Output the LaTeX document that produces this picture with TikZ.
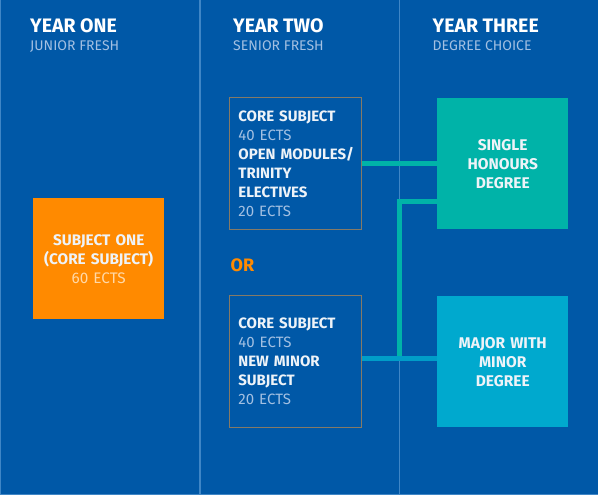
\documentclass[tikz,border=0pt]{standalone}
\usepackage{fontspec}
\setmainfont{Fira Sans}
\usetikzlibrary{positioning}

\definecolor{bgblue}{HTML}{0058A7}
\definecolor{divline}{HTML}{3F86C6}
\definecolor{boxline}{HTML}{857A66}
\definecolor{subtext}{HTML}{A3C0E2}
\definecolor{paletext}{HTML}{EEF3F8}
\definecolor{orangebox}{HTML}{FF8A00}
\definecolor{tealbox}{HTML}{00B3A8}
\definecolor{cyanbox}{HTML}{00A9CE}

\begin{document}
\begin{tikzpicture}[x=1pt,y=-1pt,
  heading/.style={anchor=base west, inner sep=0pt, text=white, font=\fontsize{19.5}{21}\selectfont\bfseries},
  subhead/.style={anchor=base west, inner sep=0pt, text=subtext, font=\fontsize{14}{16}\selectfont},
  yearbox/.style={draw=boxline, line width=0.8pt, anchor=north west, minimum width=132pt, minimum height=132pt,
    text width=114pt, inner xsep=9pt, align=left, text=paletext, font=\fontsize{15}{19}\selectfont},
  degreebox/.style={anchor=north west, minimum width=131pt, minimum height=131pt, text width=124pt,
    align=center, text=paletext, font=\fontsize{15.5}{19}\selectfont\bfseries},
  link/.style={line width=4.5pt}
]

% background and columns
\useasboundingbox (0,0) rectangle (598,495);
\fill[bgblue] (0,0) rectangle (598,495);
\draw[divline, line width=1.2pt] (0.6,0) -- (0.6,494.4) -- (598,494.4);
\draw[divline, line width=1.2pt] (200,0) -- (200,495);
\draw[divline, line width=1.2pt] (399.5,0) -- (399.5,495);

% headings
\node[heading] (h1) at (30,32.7) {YEAR ONE};
\node[subhead] (s1) at (30,51) {JUNIOR FRESH};
\node[heading] (h2) at (233,32.7) {YEAR TWO};
\node[subhead] (s2) at (233,51) {SENIOR FRESH};
\node[heading] (h3) at (432.5,32.7) {YEAR THREE};
\node[subhead] (s3) at (432.5,51) {DEGREE CHOICE};

% year one
\node[fill=orangebox, anchor=north west, minimum width=131pt, minimum height=121pt, text width=124pt,
  align=center, text=paletext, font=\fontsize{15.3}{19}\selectfont] (one) at (33,198)
  {\textbf{SUBJECT ONE}\\ \textbf{(CORE SUBJECT)}\\ {\color[HTML]{FFD9A8}60 ECTS}};

% year two
\node[yearbox] (open) at (229,97)
  {\textbf{CORE SUBJECT}\\ {\color{subtext}40 ECTS}\\ \mbox{\textbf{OPEN MODULES/}}\\ \textbf{TRINITY}\\ \textbf{ELECTIVES}\\ {\color{subtext}20 ECTS}};
\node[text=orangebox, anchor=base west, inner sep=0pt, font=\fontsize{18}{20}\selectfont\bfseries] (or) at (230.5,271) {OR};
\node[yearbox] (minor) at (229,295)
  {\textbf{CORE SUBJECT}\\ {\color{subtext}40 ECTS}\\ \textbf{NEW MINOR}\\ \textbf{SUBJECT}\\ {\color{subtext}20 ECTS}};

% year three
\node[degreebox, fill=tealbox] (single) at (437,98) {SINGLE\\ HONOURS\\ DEGREE};
\node[degreebox, fill=cyanbox] (major) at (437,296) {MAJOR WITH\\ MINOR\\ DEGREE};

% connectors
\draw[link, tealbox] (open.east) -- (open.east -| single.west);
\coordinate (split) at (399.5,358);
\draw[link, tealbox] (split) |- ([yshift=-38pt]single.west);
\draw[link, cyanbox!85!bgblue] ([yshift=3pt]minor.east) -- ([yshift=3pt]minor.east -| major.west);

\end{tikzpicture}
\end{document}
